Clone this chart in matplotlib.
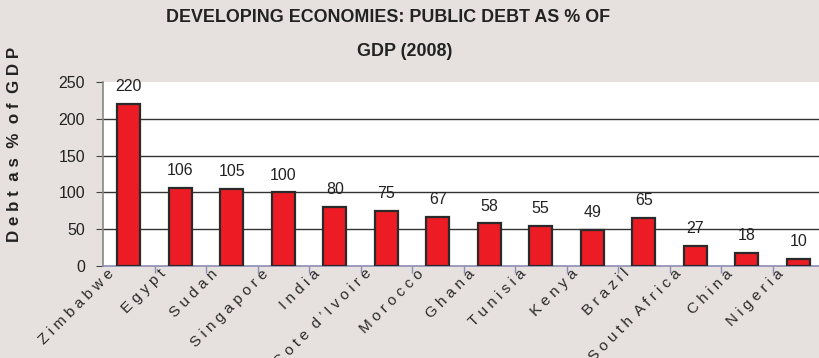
import numpy as np
import matplotlib.pyplot as plt
from matplotlib.transforms import ScaledTranslation

plt.rcParams['font.family'] = ['Liberation Sans', 'DejaVu Sans']

countries = ["Zimbabwe", "Egypt", "Sudan", "Singapore", "India", "Cote d\u2019Ivoire",
             "Morocco", "Ghana", "Tunisia", "Kenya", "Brazil", "South Africa",
             "China", "Nigeria"]
debt_pct = [220, 106, 105, 100, 80, 75, 67, 58, 55, 49, 65, 27, 18, 10]
yticks = [0, 50, 100, 150, 200, 250]

bg = '#e6e1df'
bar_red = '#ed1c24'
axis_purple = '#8c8cb4'


def spaced(s):
    # wide letter spacing: one space between letters, two between words
    return "  ".join(" ".join(w) for w in s.split())


fig = plt.figure(figsize=(8.19, 3.58), dpi=100, facecolor=bg)
ax = fig.add_axes([103/819, 92/358, 721/819, 184/358])
ax.set_facecolor('white')

x = np.arange(len(countries))
ax.bar(x, debt_pct, width=0.44, color=bar_red, edgecolor='#2a2a2a', linewidth=1.6, zorder=3)

for xi, v in zip(x, debt_pct):
    ax.annotate(str(v), (xi, v), xytext=(0, 7), textcoords='offset points',
                ha='center', va='bottom', fontsize=11.5, color='#222222')

ax.set_xlim(-0.5, len(countries) - 0.5)
ax.set_ylim(0, 250)
ax.set_yticks(yticks)
ax.tick_params(axis='y', labelsize=11.5, labelcolor='#222222', length=5,
               color='#444444', pad=8)
for g in yticks[1:-1]:
    ax.axhline(g, color='#333333', linewidth=1.0, zorder=1)

ax.set_xticks(x)
ax.set_xticklabels([spaced(c) for c in countries], rotation=45, ha='right',
                   va='center', rotation_mode='anchor', fontsize=11, color='#2a2a2a')
ax.tick_params(axis='x', which='major', length=0, pad=0)
ax.set_xticks(np.arange(0.5, len(countries) - 1, 1.0), minor=True)
ax.tick_params(axis='x', which='minor', length=5, color=axis_purple, width=1)
shift = ScaledTranslation(-12/72, -4/72, fig.dpi_scale_trans)
for lbl in ax.get_xticklabels():
    lbl.set_transform(lbl.get_transform() + shift)

for side in ['top', 'right']:
    ax.spines[side].set_visible(False)
ax.spines['bottom'].set_color(axis_purple)
ax.spines['bottom'].set_linewidth(1.2)
ax.spines['left'].set_color('#888888')
ax.spines['left'].set_linewidth(1.2)

fig.text(388/819, 1 - 17/358, "DEVELOPING ECONOMIES: PUBLIC DEBT AS % OF",
         ha='center', va='center', fontsize=12.9, fontweight='bold', color='#222222')
fig.text(405/819, 1 - 52/358, "GDP (2008)",
         ha='center', va='center', fontsize=12.9, fontweight='bold', color='#222222')
fig.text(15/819, 1 - 144/358, "D e b t  a s  %  o f  G D P", rotation=90,
         ha='center', va='center', fontsize=12.2, fontweight='bold', color='#222222')

fig.savefig('out.png', dpi=100, facecolor=bg)
